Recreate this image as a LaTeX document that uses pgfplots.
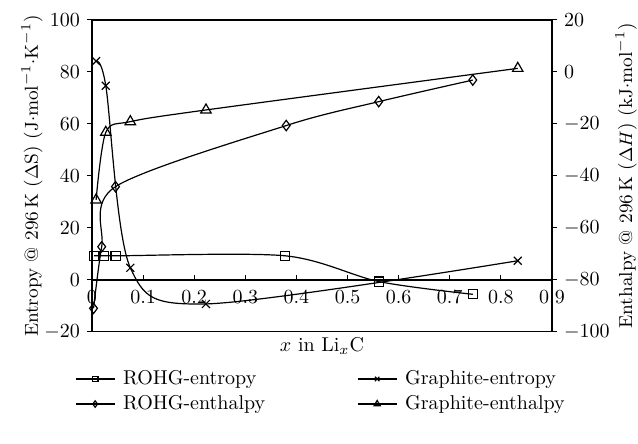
\documentclass[border=0pt]{standalone}
\usepackage{pgfplots}
\pgfplotsset{compat=1.18}
\begin{document}
\begin{tikzpicture}
\pgfplotsset{
  every axis/.append style={
    scale only axis, width=230pt, height=156pt,
    xmin=0, xmax=0.9,
    axis line style={line width=0.6pt},
    tick style={black, line width=0.5pt},
    major tick length=2.5pt,
    ylabel style={font=\fontsize{9.4}{11}\selectfont},
  },
}
% right axis: enthalpy
\begin{axis}[
  axis x line=none,
  axis y line*=right,
  ymin=-100, ymax=20,
  ytick={-100,-80,-60,-40,-20,0,20},
  ytick align=outside,
  ylabel shift=-4pt,
  ylabel={Enthalpy @ 296\,K (\(\Delta H\)) (kJ\(\cdot\)mol\(^{-1}\))},
]
\addplot[black, line width=0.6pt, smooth, mark=diamond, mark size=2.6pt, mark options={solid}]
  coordinates {(0.003,-90.9) (0.019,-67.2) (0.046,-44.1) (0.380,-20.6) (0.561,-11.4) (0.745,-3.1)};
\addplot[black, line width=0.6pt, smooth, mark=triangle, mark size=3pt, mark options={solid}]
  coordinates {(0.008,-49.2) (0.027,-23.2) (0.075,-19.1) (0.223,-14.6) (0.833,1.4)};
\end{axis}
% left axis: entropy
\begin{axis}[
  name=ax,
  axis x line*=middle,
  axis y line*=left,
  ymin=-20, ymax=100,
  ytick={-20,0,20,40,60,80,100},
  ytick align=outside,
  xtick={0,0.1,0.2,0.3,0.4,0.5,0.6,0.7,0.8,0.9},
  xticklabels={0,0.1,0.2,0.3,0.4,0.5,0.6,0.7,0.8,0.9},
  xtick align=inside,
  hide obscured x ticks=false,
  hide obscured y ticks=false,
  xticklabel style={below, yshift=-1.5pt},
  xlabel={\(x\) in Li\(_x\)C},
  xlabel style={at={(rel axis cs:0.5,0)}, anchor=north, yshift=1pt},
  ylabel shift=-6pt,
  ylabel={Entropy @ 296\,K (\(\Delta\)S) (J\(\cdot\)mol\(^{-1}\cdot\)K\(^{-1}\))},
  legend columns=2,
  legend style={at={(rel axis cs:0.5,0)}, anchor=north, yshift=-15pt, draw=none,
    /tikz/every even column/.append style={column sep=44pt},
    /tikz/every odd column/.append style={column sep=2pt}},
  legend cell align=left,
  legend image code/.code={%
    \draw[mark repeat=2, mark phase=2] plot coordinates {(0cm,0cm) (0.34cm,0cm) (0.68cm,0cm)};},
]
\addlegendimage{black, line width=0.6pt, mark=square, mark size=1.4pt}
\addlegendentry{ROHG-entropy}
\addlegendimage{black, line width=0.6pt, mark=x, mark size=1.6pt}
\addlegendentry{Graphite-entropy}
\addlegendimage{black, line width=0.6pt, mark=diamond, mark size=1.6pt}
\addlegendentry{ROHG-enthalpy}
\addlegendimage{black, line width=0.6pt, mark=triangle, mark size=1.8pt}
\addlegendentry{Graphite-enthalpy}
\addplot[forget plot, black, line width=0.6pt, smooth, mark=square, mark size=2.3pt]
  coordinates {(0.004,9.3) (0.024,9.3) (0.046,9.3) (0.378,9.3) (0.561,-0.6) (0.745,-5.5)};
\addplot[forget plot, black, line width=0.6pt, smooth, mark=x, mark size=2.8pt]
  coordinates {(0.008,84.2) (0.027,74.7) (0.075,4.7) (0.223,-9.2) (0.833,7.4)};
\draw[line width=0.6pt] (rel axis cs:0,1) -- (rel axis cs:1,1);
\draw[line width=0.6pt] (rel axis cs:0,0) -- (rel axis cs:1,0);
\end{axis}
\pgfresetboundingbox
\path[use as bounding box] ([xshift=-46pt, yshift=-56pt]ax.south west) rectangle ([xshift=43pt, yshift=10pt]ax.north east);
\end{tikzpicture}
\end{document}
